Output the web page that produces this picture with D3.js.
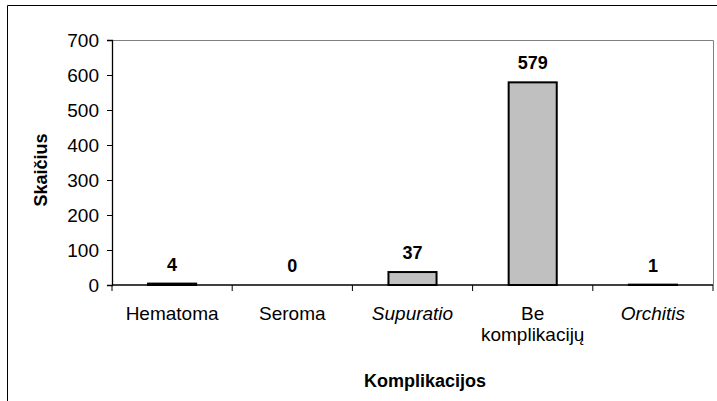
<!DOCTYPE html>
<html><head><meta charset="utf-8">
<script src="https://cdn.jsdelivr.net/npm/d3@7"></script>
<style>body{margin:0;background:#fff}svg{display:block}text{font-family:"Liberation Sans",Arial,sans-serif}</style>
</head><body><svg id="c" width="717" height="401"></svg>
<script>
const categories = ["Hematoma", "Seroma", "Supuratio", "Be komplikacijų", "Orchitis"];
const values = [4, 0, 37, 579, 1];
const italic = [false, false, true, false, true];
const yTicks = [0, 100, 200, 300, 400, 500, 600, 700];

const svg = d3.select("#c");
const L = 112, R = 713, T = 40, B = 285;
// outer frame
svg.append("path").attr("d", "M7.5,401V5.5H717").attr("fill", "none").attr("stroke", "#000");

const x = d3.scaleBand().domain(categories).range([L, R]).paddingInner(0.6).paddingOuter(0.3);
const xs = d3.scaleBand().domain(categories).range([L, R]);
const y = d3.scaleLinear().domain([0, 700]).range([B, T]);

// plot border (gray top & right)
svg.append("path").attr("d", `M${L},${T + .5}H${R + .5}V${B}`).attr("fill", "none").attr("stroke", "#808080");

// bars
svg.selectAll("rect.bar").data(values).join("rect")
  .attr("x", (d, i) => x(categories[i]))
  .attr("y", d => y(d))
  .attr("width", x.bandwidth())
  .attr("height", d => B - y(d))
  .attr("fill", "#c0c0c0").attr("stroke", "#000").attr("stroke-width", 2);

// value labels
svg.selectAll("text.val").data(values).join("text")
  .attr("x", (d, i) => x(categories[i]) + x.bandwidth() / 2)
  .attr("y", d => y(d) - 13)
  .attr("text-anchor", "middle").attr("font-weight", "bold").attr("font-size", 18)
  .text(d => d);

// y axis
const ya = svg.append("g").attr("transform", `translate(${L},0)`)
  .call(d3.axisLeft(y).tickValues(yTicks).tickSize(5).tickPadding(8));
ya.select(".domain").attr("stroke", "#000").attr("stroke-width", 1.3);
ya.selectAll("text").attr("font-size", 19).attr("fill", "#000").attr("font-family", "Liberation Sans, Arial, sans-serif");

// x axis line and separator ticks
svg.append("line").attr("x1", L).attr("x2", R).attr("y1", B).attr("y2", B).attr("stroke", "#000").attr("stroke-width", 1.3);
const seps = categories.map(c => xs(c)).concat([R]);
svg.selectAll("line.sep").data(seps).join("line")
  .attr("x1", d => d).attr("x2", d => d).attr("y1", B).attr("y2", B + 6)
  .attr("stroke", "#000");

// x labels
categories.forEach((c, i) => {
  const cx = xs(c) + xs.bandwidth() / 2;
  const t = svg.append("text").attr("x", cx).attr("y", 320).attr("text-anchor", "middle")
    .attr("font-size", 19).attr("font-style", italic[i] ? "italic" : "normal");
  const parts = c === "Be komplikacijų" ? ["Be", "komplikacijų"] : [c];
  parts.forEach((p, j) => t.append("tspan").attr("x", cx).attr("dy", j ? 21 : 0).text(p));
});

// axis titles
svg.append("text").attr("x", 425).attr("y", 387).attr("text-anchor", "middle")
  .attr("font-weight", "bold").attr("font-size", 18).text("Komplikacijos");
svg.append("text").attr("transform", "translate(47,170) rotate(-90)").attr("text-anchor", "middle")
  .attr("font-weight", "bold").attr("font-size", 18).text("Skaičius");
</script></body></html>
